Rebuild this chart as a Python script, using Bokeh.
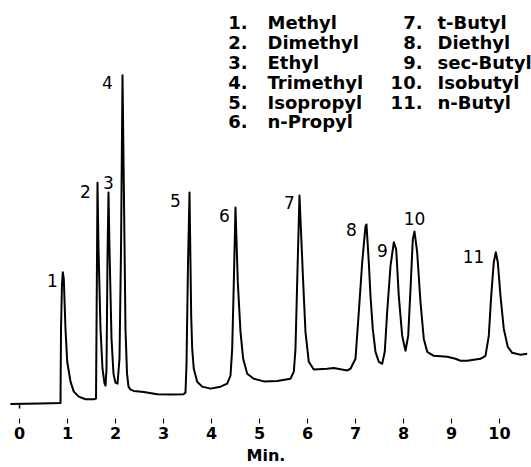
from bokeh.plotting import figure
from bokeh.models import Range1d, FixedTicker, ColumnDataSource
from bokeh.core.properties import value
from bokeh.embed import file_html
from bokeh.resources import INLINE

# Chromatogram trace (time in min, detector response in arbitrary units)
trace_t = [-0.19, 0.44, 0.854, 0.865, 0.885, 0.902, 0.923, 0.958, 0.994, 1.0625, 1.131, 1.235, 1.375, 1.548,
           1.594, 1.615, 1.625, 1.646, 1.6875, 1.729, 1.771, 1.792,
           1.8125, 1.833, 1.854, 1.875, 1.917, 1.958, 2.0, 2.042,
           2.083, 2.115, 2.146, 2.177, 2.208, 2.240, 2.271, 2.3125, 2.381, 2.590, 2.869, 3.146, 3.417,
           3.458, 3.479, 3.51, 3.542, 3.577, 3.598, 3.631, 3.702, 3.806, 3.979, 4.1875, 4.327, 4.396,
           4.431, 4.465, 4.5, 4.548, 4.604, 4.660, 4.744, 4.881, 5.090, 5.369, 5.646, 5.715,
           5.75, 5.785, 5.833, 5.910, 5.958, 6.027, 6.131, 6.410, 6.548, 6.827, 6.896, 7.0,
           7.069, 7.140, 7.208, 7.229, 7.277, 7.3125, 7.360, 7.417, 7.485, 7.556, 7.610, 7.660,
           7.729, 7.798, 7.848, 7.902, 7.973, 8.042, 8.098, 8.146,
           8.194, 8.229, 8.285, 8.354, 8.423, 8.494, 8.631, 8.910, 9.083, 9.1875, 9.327, 9.604, 9.708,
           9.777, 9.827, 9.881, 9.923, 9.965, 10.021, 10.090, 10.173, 10.265, 10.4375, 10.577]
trace_s = [0.5, 1.0, 1.5, 76, 121, 133, 126, 76, 43, 23, 13, 8, 5.3, 5.3,
           6, 150, 223, 156, 76, 36, 21, 19,
           36, 146, 213, 156, 66, 31, 22, 21,
           46, 156, 331, 206, 76, 31, 18, 15, 13.7, 12.7, 10.3, 10, 10.3,
           12, 40, 140, 213, 89, 56, 36, 23, 18, 16, 18, 21, 29,
           56, 123, 198, 123, 73, 46, 31, 26, 23.3, 23.7, 26, 33,
           56, 123, 210, 123, 73, 43, 35.3, 36, 36.7, 34.3, 36, 46,
           93, 143, 179, 181, 143, 109, 76, 53, 43, 41, 53, 93,
           139, 163, 156, 109, 69, 54, 69, 116,
           166, 174, 153, 103, 66, 53, 49, 48, 46, 44, 44, 46, 49,
           69, 109, 143, 153, 143, 109, 76, 58, 52, 50, 51]

# injection mark
inject_t = [0.0]
inject_s0 = [1.0]
inject_s1 = [-4.0]

# peak labels (anchor positions in data units)
peak_labels = ["1", "2", "3", "4", "5", "6", "7", "8", "9", "10", "11"]
peak_label_t = [0.6875, 1.375, 1.854, 1.833, 3.25, 4.27, 5.625, 6.917, 7.5625, 8.229, 9.458]
peak_label_s = [125, 214, 223, 324, 205, 190, 203, 176, 155, 187, 149]

# compound key
key_nums_1 = ["1.", "2.", "3.", "4.", "5.", "6."]
key_names_1 = ["Methyl", "Dimethyl", "Ethyl", "Trimethyl", "Isopropyl", "n-Propyl"]
key_nums_2 = ["7.", "8.", "9.", "10.", "11."]
key_names_2 = ["t-Butyl", "Diethyl", "sec-Butyl", "Isobutyl", "n-Butyl"]

tick_values = [0, 1, 2, 3, 4, 5, 6, 7, 8, 9, 10]

FRAME_H = 420
p = figure(width=531, height=467, output_backend="svg", toolbar_location=None,
           x_range=Range1d(-0.396, 10.667), y_range=Range1d(406 - FRAME_H, 406),
           y_axis_location=None, min_border_left=0, min_border_right=0,
           min_border_top=0, min_border_bottom=0)
p.outline_line_color = None
p.grid.visible = False
p.background_fill_color = "white"
p.border_fill_color = "white"

ax = p.xaxis[0]
ax.ticker = FixedTicker(ticks=tick_values)
ax.axis_line_color = None
ax.major_tick_in = 0
ax.major_tick_out = 5
ax.major_tick_line_color = "black"
ax.major_tick_line_width = 1
ax.minor_tick_line_color = None
ax.major_label_text_font = "DejaVu Sans"
ax.major_label_text_font_style = "bold"
ax.major_label_text_font_size = "16px"
ax.major_label_text_color = "black"
ax.major_label_standoff = 3
ax.axis_label = "Min."
ax.axis_label_text_font = "DejaVu Sans"
ax.axis_label_text_font_style = "bold"
ax.axis_label_text_font_size = "16px"
ax.axis_label_text_color = "black"
ax.axis_label_standoff = 4

p.line(trace_t, trace_s, line_color="black", line_width=2, line_join="round")
p.segment(x0=inject_t, y0=inject_s0, x1=inject_t, y1=inject_s1, line_color="black", line_width=1.5)

p.text(x=peak_label_t, y=peak_label_s, text=peak_labels, text_font=value("DejaVu Sans"),
       text_font_size="17px", text_align="center", text_baseline="middle", text_color="black")

row_s1 = [384 - 20 * i for i in range(len(key_names_1))]
row_s2 = [384 - 20 * i for i in range(len(key_names_2))]
col1_num_t, col1_txt_t = 4.75, 5.167
col2_num_t, col2_txt_t = 8.396, 8.708
for nums, names, rows, xn, xt in [(key_nums_1, key_names_1, row_s1, col1_num_t, col1_txt_t),
                                  (key_nums_2, key_names_2, row_s2, col2_num_t, col2_txt_t)]:
    src = ColumnDataSource(dict(xn=[xn] * len(nums), xt=[xt] * len(nums), y=rows, num=nums, name=names))
    p.text(x="xn", y="y", text="num", source=src, text_font=value("DejaVu Sans"),
           text_font_style="bold", text_font_size="18px", text_align="right",
           text_baseline="middle", text_color="black")
    p.text(x="xt", y="y", text="name", source=src, text_font=value("DejaVu Sans"),
           text_font_style="bold", text_font_size="18px", text_align="left",
           text_baseline="middle", text_color="black")

open("out.html", "w").write(file_html(p, INLINE))
